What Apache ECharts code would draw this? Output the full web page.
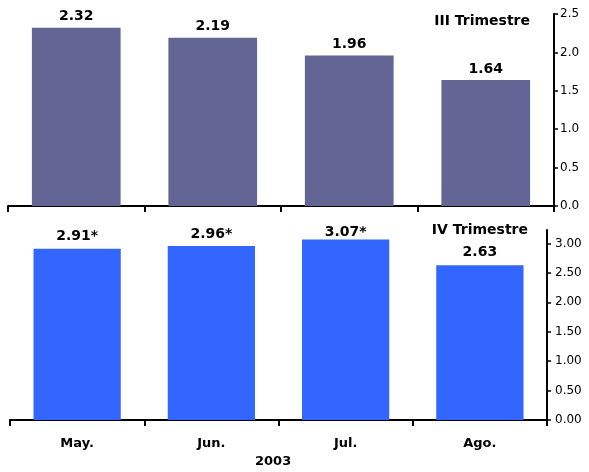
<!DOCTYPE html>
<html>
<head>
<meta charset="utf-8">
<script src="https://cdn.jsdelivr.net/npm/echarts@6/dist/echarts.min.js"></script>
<style>
  html, body { margin: 0; padding: 0; background: #ffffff; }
  #chart { width: 589px; height: 472px; }
</style>
</head>
<body>
<div id="chart"></div>
<script>
// Monthly values, 2003
const months = ['May.', 'Jun.', 'Jul.', 'Ago.'];
const yearLabel = '2003';

// Third-quarter panel
const q3Title = 'III Trimestre';
const q3Values = [2.32, 2.19, 1.96, 1.64];
const q3Labels = ['2.32', '2.19', '1.96', '1.64'];
const q3Ticks = [0, 0.5, 1.0, 1.5, 2.0, 2.5];

// Fourth-quarter panel
const q4Title = 'IV Trimestre';
const q4Values = [2.91, 2.96, 3.07, 2.63];
const q4Labels = ['2.91*', '2.96*', '3.07*', '2.63'];
const q4Ticks = [0, 0.5, 1.0, 1.5, 2.0, 2.5, 3.0];

const FONT = 'DejaVu Sans';

const chart = echarts.init(document.getElementById('chart'), null, { renderer: 'canvas' });

function xAxisFor(gridIndex, showLabels) {
  return {
    type: 'category',
    gridIndex: gridIndex,
    data: months,
    boundaryGap: true,
    axisLine: { show: true, lineStyle: { color: '#000', width: 2 } },
    axisTick: { show: true, inside: false, length: 6, alignWithLabel: false, lineStyle: { color: '#000', width: 2 } },
    axisLabel: {
      show: showLabels,
      margin: 17,
      color: '#000',
      fontFamily: FONT,
      fontWeight: 'bold',
      fontSize: 13
    },
    splitLine: { show: false }
  };
}

function yAxisFor(gridIndex, max, ticks, decimals, margin) {
  return {
    type: 'value',
    gridIndex: gridIndex,
    position: 'right',
    min: 0,
    max: max,
    axisLine: { show: true, onZero: false, lineStyle: { color: '#000', width: 2 } },
    axisTick: { show: true, inside: false, length: 4, customValues: ticks, lineStyle: { color: '#000', width: 1.5 } },
    axisLabel: {
      show: true,
      customValues: ticks,
      margin: margin,
      color: '#000',
      fontFamily: FONT,
      fontSize: 12,
      formatter: v => v.toFixed(decimals)
    },
    splitLine: { show: false }
  };
}

function barData(values, labels, distances) {
  return values.map((v, i) => ({
    value: v,
    label: { formatter: labels[i], distance: distances[i] }
  }));
}

const valueLabel = {
  show: true,
  position: 'top',
  color: '#000',
  fontFamily: FONT,
  fontWeight: 'bold',
  fontSize: 14
};

chart.setOption({
  animation: false,
  backgroundColor: '#ffffff',
  grid: [
    { left: 8, right: 35, top: 14, height: 192, containLabel: false },
    { left: 10, right: 42, top: 230, height: 190, containLabel: false }
  ],
  xAxis: [xAxisFor(0, false), xAxisFor(1, true)],
  yAxis: [
    yAxisFor(0, 2.5, q3Ticks, 1, 6),
    yAxisFor(1, 3.23, q4Ticks, 2, 8)
  ],
  series: [
    {
      type: 'bar',
      xAxisIndex: 0,
      yAxisIndex: 0,
      data: barData(q3Values, q3Labels, [4, 4, 4, 4]),
      barCategoryGap: '35%',
      itemStyle: { color: '#636594' },
      label: valueLabel
    },
    {
      type: 'bar',
      xAxisIndex: 1,
      yAxisIndex: 1,
      data: barData(q4Values, q4Labels, [5, 5, 0, 6]),
      barCategoryGap: '35%',
      itemStyle: { color: '#3366ff' },
      label: valueLabel
    }
  ],
  graphic: [
    {
      type: 'text',
      right: 59,
      top: 14,
      style: { text: q3Title, fill: '#000', font: 'bold 14px "DejaVu Sans"', textAlign: 'right' }
    },
    {
      type: 'text',
      right: 61,
      top: 223,
      style: { text: q4Title, fill: '#000', font: 'bold 14px "DejaVu Sans"', textAlign: 'right' }
    },
    {
      type: 'text',
      left: 255,
      top: 455,
      style: { text: yearLabel, fill: '#000', font: 'bold 13px "DejaVu Sans"' }
    }
  ]
});
</script>
</body>
</html>
